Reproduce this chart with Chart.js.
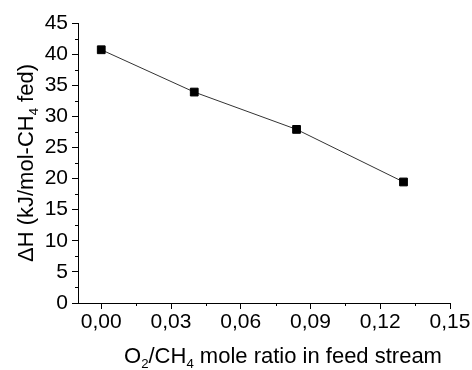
<!DOCTYPE html>
<html>
<head>
<meta charset="utf-8">
<script src="https://cdn.jsdelivr.net/npm/chart.js@4.4.1/dist/chart.umd.min.js"></script>
<style>
  html, body { margin: 0; padding: 0; background: #fff; }
  #chart { display: block; }
</style>
</head>
<body>
<canvas id="chart" width="472" height="370"></canvas>
<script>
// O2/CH4 mole ratio vs enthalpy
const ratios = [0.0, 0.04, 0.084, 0.13];
const deltaH = [40.7, 33.9, 27.9, 19.45];
const xTicks = [0, 0.03, 0.06, 0.09, 0.12, 0.15];
const yTicks = [0, 5, 10, 15, 20, 25, 30, 35, 40, 45];

const FONT = "'Liberation Sans', Arial, sans-serif";

// text pieces: [text, isSubscript]
const xTitle = [['O', false], ['2', true], ['/CH', false], ['4', true], [' mole ratio in feed stream', false]];
const yTitle = [['\u0394H (kJ/mol-CH', false], ['4', true], [' fed)', false]];

function partsWidth(ctx, parts, size) {
    let w = 0;
    parts.forEach(p => {
        ctx.font = (p[1] ? size * 0.6 : size) + 'px ' + FONT;
        w += ctx.measureText(p[0]).width;
    });
    return w;
}

function drawParts(ctx, parts, size, cx, baseline) {
    let x = cx - partsWidth(ctx, parts, size) / 2;
    ctx.textAlign = 'left';
    ctx.textBaseline = 'alphabetic';
    parts.forEach(p => {
        ctx.font = (p[1] ? size * 0.6 : size) + 'px ' + FONT;
        ctx.fillText(p[0], x, p[1] ? baseline + 5 : baseline);
        x += ctx.measureText(p[0]).width;
    });
}

// minor ticks + axis titles
const extras = {
    id: 'extras',
    afterDraw(chart) {
        const ctx = chart.ctx;
        const xs = chart.scales.x, ys = chart.scales.y;
        ctx.save();
        ctx.strokeStyle = '#000';
        ctx.lineWidth = 1;
        ctx.beginPath();
        for (let i = 0; i < xTicks.length - 1; i++) {
            const px = Math.round(xs.getPixelForValue((xTicks[i] + xTicks[i + 1]) / 2)) + 0.5;
            ctx.moveTo(px, ys.bottom);
            ctx.lineTo(px, ys.bottom + 3);
        }
        for (let i = 0; i < yTicks.length - 1; i++) {
            const py = Math.round(ys.getPixelForValue((yTicks[i] + yTicks[i + 1]) / 2)) + 0.5;
            ctx.moveTo(xs.left, py);
            ctx.lineTo(xs.left - 3, py);
        }
        ctx.stroke();

        ctx.fillStyle = '#000';
        drawParts(ctx, xTitle, 22, 283, 363);

        ctx.translate(33, (ys.top + ys.bottom) / 2);
        ctx.rotate(-Math.PI / 2);
        drawParts(ctx, yTitle, 22, 0, 0);
        ctx.restore();
    }
};

new Chart(document.getElementById('chart'), {
    type: 'scatter',
    data: {
        datasets: [{
            data: ratios.map((r, i) => ({ x: r, y: deltaH[i] })),
            showLine: true,
            borderColor: '#333',
            borderWidth: 1,
            pointStyle: 'rect',
            pointRadius: 5.5,
            pointBackgroundColor: '#000',
            pointBorderColor: '#000',
            pointBorderWidth: 1
        }]
    },
    options: {
        responsive: false,
        animation: false,
        layout: { padding: { left: 0, right: 22, top: 23, bottom: 0 } },
        plugins: {
            legend: { display: false },
            tooltip: { enabled: false }
        },
        scales: {
            x: {
                type: 'linear',
                min: -0.01,
                max: 0.15,
                afterBuildTicks: scale => { scale.ticks = xTicks.map(v => ({ value: v })); },
                afterFit: scale => { scale.height = 67; },
                grid: { drawOnChartArea: false, color: '#000', tickLength: 6 },
                border: { display: true, color: '#000', width: 1 },
                ticks: {
                    color: '#000',
                    padding: 1,
                    maxRotation: 0,
                    autoSkip: false,
                    font: { family: FONT, size: 21 },
                    callback: v => v.toFixed(2).replace('.', ',')
                }
            },
            y: {
                type: 'linear',
                min: 0,
                max: 45,
                afterBuildTicks: scale => { scale.ticks = yTicks.map(v => ({ value: v })); },
                afterFit: scale => { scale.width = 78; },
                grid: { drawOnChartArea: false, color: '#000', tickLength: 6 },
                border: { display: true, color: '#000', width: 1 },
                ticks: {
                    color: '#000',
                    padding: 4,
                    autoSkip: false,
                    font: { family: FONT, size: 21 },
                    callback: v => String(v)
                }
            }
        }
    },
    plugins: [extras]
});
</script>
</body>
</html>
